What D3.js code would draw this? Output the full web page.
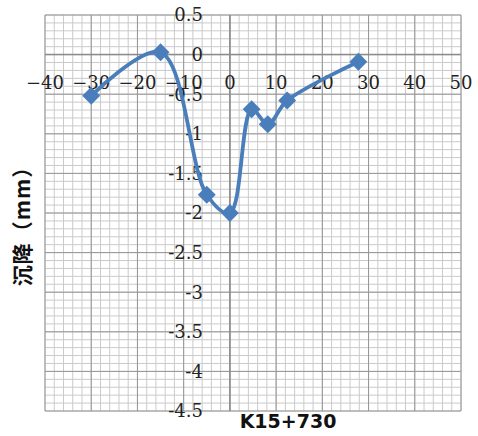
<!DOCTYPE html>
<html>
<head>
<meta charset="utf-8">
<script src="https://cdn.jsdelivr.net/npm/d3@7"></script>
<style>
  html, body { margin: 0; padding: 0; background: #fff; }
  svg { display: block; }
</style>
</head>
<body>
<svg id="chart" width="478" height="436"></svg>
<script>
// Settlement survey at section K15+730: offset (m) vs settlement (mm)
const offsets     = [-30, -15, -5, 0, 4.7, 8.2, 12.4, 27.8];
const settlements = [-0.52, 0.03, -1.77, -2.0, -0.69, -0.88, -0.58, -0.09];
const xTicks = [-40, -30, -20, -10, 0, 10, 20, 30, 40, 50];
const yTicks = [0.5, 0, -0.5, -1, -1.5, -2, -2.5, -3, -3.5, -4, -4.5];
const xTitle = "K15+730";
const yTitle = "沉降（mm）";

const svg = d3.select("#chart");
const plot = { left: 45, right: 461, top: 15, bottom: 411 };

const x = d3.scaleLinear().domain([-40, 50]).range([plot.left, plot.right]);
const y = d3.scaleLinear().domain([-4.5, 0.5]).range([plot.bottom, plot.top]);

// Minor grid (every 2 along x, every 0.1 along y)
const minorX = d3.range(-40, 50.001, 2);
const minorY = d3.range(-45, 5.001, 1).map(v => v / 10);
const grid = svg.append("g");
grid.selectAll("line.mx").data(minorX).join("line")
  .attr("x1", d => x(d)).attr("x2", d => x(d))
  .attr("y1", plot.top).attr("y2", plot.bottom)
  .attr("stroke", "#cacaca").attr("stroke-width", 1);
grid.selectAll("line.my").data(minorY).join("line")
  .attr("x1", plot.left).attr("x2", plot.right)
  .attr("y1", d => y(d)).attr("y2", d => y(d))
  .attr("stroke", "#cacaca").attr("stroke-width", 1);

// Major grid
grid.selectAll("line.Mx").data(xTicks).join("line")
  .attr("x1", d => x(d)).attr("x2", d => x(d))
  .attr("y1", plot.top).attr("y2", plot.bottom)
  .attr("stroke", "#969696").attr("stroke-width", 1);
grid.selectAll("line.My").data(yTicks).join("line")
  .attr("x1", plot.left).attr("x2", plot.right)
  .attr("y1", d => y(d)).attr("y2", d => y(d))
  .attr("stroke", "#969696").attr("stroke-width", 1);

// Axis lines through the origin
svg.append("line")
  .attr("x1", x(0)).attr("x2", x(0)).attr("y1", plot.top).attr("y2", plot.bottom)
  .attr("stroke", "#8c8c8c").attr("stroke-width", 1.5);
svg.append("line")
  .attr("x1", plot.left).attr("x2", plot.right).attr("y1", y(0)).attr("y2", y(0))
  .attr("stroke", "#8c8c8c").attr("stroke-width", 1.5);

// Tick labels
const fmtX = d => d < 0 ? "\u2212" + Math.abs(d) : String(d);
svg.append("g").selectAll("text").data(xTicks).join("text")
  .attr("x", d => x(d)).attr("y", y(0) + 34)
  .attr("text-anchor", "middle")
  .attr("font-family", "'DejaVu Serif', serif").attr("font-size", 18)
  .attr("fill", "#222")
  .text(fmtX);

svg.append("g").selectAll("text").data(yTicks).join("text")
  .attr("x", x(0) - 27).attr("y", d => y(d))
  .attr("dy", "0.36em")
  .attr("text-anchor", "end")
  .attr("font-family", "'DejaVu Serif', serif").attr("font-size", 18)
  .attr("fill", "#222")
  .text(d => String(d));

// Smoothed series line
const pts = offsets.map((o, i) => [o, settlements[i]]);
const line = d3.line().x(d => x(d[0])).y(d => y(d[1])).curve(d3.curveCatmullRom.alpha(0.5));
svg.append("path").datum(pts)
  .attr("d", line)
  .attr("fill", "none").attr("stroke", "#4a7ebb").attr("stroke-width", 3.8)
  .attr("stroke-linejoin", "round").attr("stroke-linecap", "round");

// Diamond markers
const diamond = d3.symbol().type(d3.symbolSquare).size(160);
svg.append("g").selectAll("path").data(pts).join("path")
  .attr("d", diamond)
  .attr("transform", d => `translate(${x(d[0])},${y(d[1])}) rotate(45)`)
  .attr("fill", "#4a7ebb");

// Axis titles
svg.append("text")
  .attr("x", 288).attr("y", 428)
  .attr("text-anchor", "middle")
  .attr("font-family", "'DejaVu Sans', sans-serif").attr("font-weight", "bold")
  .attr("font-size", 19).attr("fill", "#111")
  .text(xTitle);

svg.append("text")
  .attr("transform", "translate(30,221) rotate(-90)")
  .attr("text-anchor", "middle")
  .attr("font-family", "'Noto Sans CJK SC', sans-serif").attr("font-weight", "bold")
  .attr("font-size", 21).attr("letter-spacing", 1)
  .attr("fill", "#111")
  .text(yTitle);
</script>
</body>
</html>
